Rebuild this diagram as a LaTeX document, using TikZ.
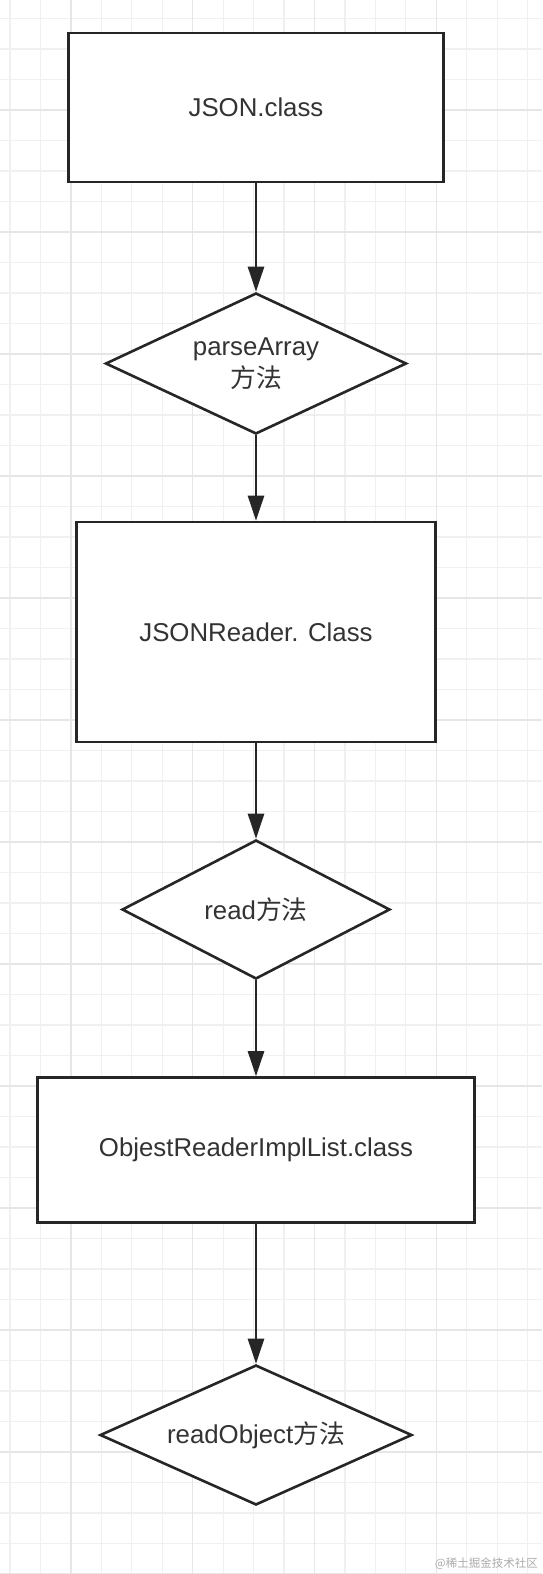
\documentclass[tikz,border=0pt]{standalone}
\usepackage{fontspec}
\setmainfont{Liberation Sans}
\newfontfamily\cjk{Noto Sans CJK SC}
\usepackage{xcolor}
\usepackage{tikz}
\usetikzlibrary{arrows.meta,shapes}
\definecolor{gridminor}{HTML}{F0F0F0}
\definecolor{gridmajor}{HTML}{E6E6E6}
\definecolor{ink}{HTML}{262626}
\definecolor{txt}{HTML}{333333}
\definecolor{wmark}{HTML}{ABABAB}

\begin{document}
\begin{tikzpicture}[x=1pt,y=-1pt,>={Triangle[length=25pt,width=16pt]},
box/.style={draw=ink,line width=2.6pt,fill=white,text=txt,font=\fontsize{25.8}{32}\selectfont,inner sep=0pt},
cond/.style={box,diamond,aspect=2,align=center},
flow/.style={->,draw=ink,line width=2.6pt}]
\fill[white](0,0)rectangle(542,1574);
\useasboundingbox(0,0)rectangle(542,1574);
% grid
\foreach \k in {0,...,17}
\draw[gridminor,line width=1.2pt]({10+30.45*\k},0)--({10+30.45*\k},1574);
\foreach \k in {1,...,52}
\draw[gridminor,line width=1.2pt](0,{-12+30.5*\k})--(542,{-12+30.5*\k});
\foreach \k in {2,6,10,14}
\draw[gridmajor,line width=1.5pt]({10+30.45*\k},0)--({10+30.45*\k},1574);
\foreach \k in {4,8,...,52}
\draw[gridmajor,line width=1.5pt](0,{-12+30.5*\k})--(542,{-12+30.5*\k});
% flow chart
\node[box,minimum width=375pt,minimum height=149pt](json) at (256,107.5){JSON.class};
\node[cond,minimum width=301pt,minimum height=141pt](parse) at (256,363.5){parseArray\\{\cjk 方法}};
\node[box,minimum width=359pt,minimum height=220pt](reader) at (256,632){JSONReader. Class};
\node[cond,minimum width=268pt,minimum height=139pt](readm) at (256,909.5){read{\cjk 方法}};
\node[box,minimum width=437pt,minimum height=145pt](impl) at (256,1150){ObjestReaderImplList.class};
\node[cond,minimum width=312pt,minimum height=140pt](readobj) at (256,1435){readObject{\cjk 方法}};
\draw[flow](json)--(parse);
\draw[flow](parse)--(reader);
\draw[flow](reader)--(readm);
\draw[flow](readm)--(impl);
\draw[flow](impl)--(readobj);
\node[text=wmark,font=\cjk\fontsize{11.5}{12}\selectfont,anchor=south east,inner sep=0pt](mark) at (538,1570){@稀土掘金技术社区};
\end{tikzpicture}
\end{document}
